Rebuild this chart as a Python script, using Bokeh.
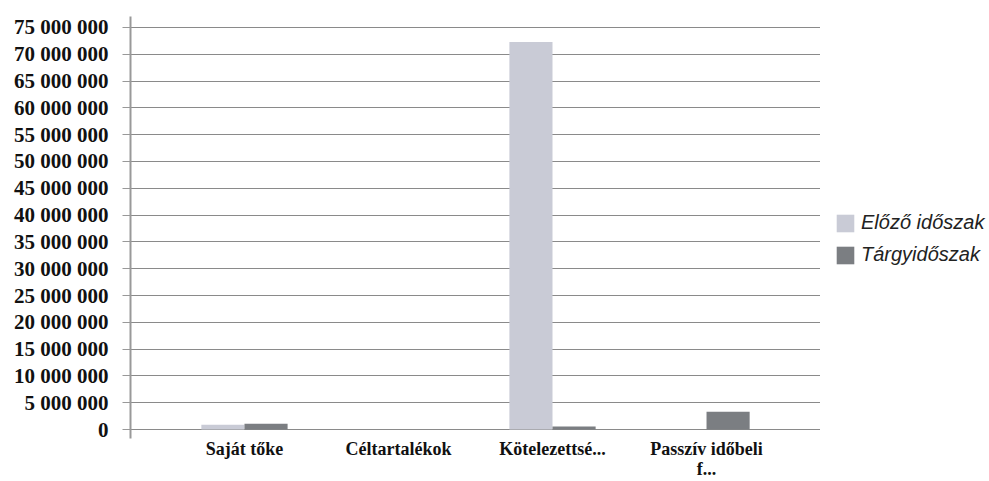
from bokeh.plotting import figure
from bokeh.layouts import row
from bokeh.models import ColumnDataSource, FactorRange, Legend, LegendItem, CustomJSTickFormatter, SingleIntervalTicker
from bokeh.transform import dodge
from bokeh.embed import file_html
from bokeh.resources import INLINE

categories = ["Saját tőke", "Céltartalékok", "Kötelezettsé...", "Passzív időbeli\nf..."]
elozo = [900000, 0, 72300000, 0]
targy = [1100000, 0, 550000, 3300000]
series_names = ["Előző időszak", "Tárgyidőszak"]
colors = ["#c9cbd6", "#7b7e82"]

src = ColumnDataSource(dict(cat=categories, elozo=elozo, targy=targy))

p = figure(x_range=FactorRange(*categories), y_range=(-1670000, 77040000),
           width=820, height=481, output_backend="svg", toolbar_location=None,
           min_border_left=130, min_border_top=16, min_border_bottom=41, min_border_right=0)

p.vbar(x=dodge("cat", -0.14, range=p.x_range), top="elozo", width=0.28, source=src,
       fill_color=colors[0], line_color=None)
p.vbar(x=dodge("cat", 0.14, range=p.x_range), top="targy", width=0.28, source=src,
       fill_color=colors[1], line_color=None)

p.yaxis.ticker = SingleIntervalTicker(interval=5000000)
p.yaxis.formatter = CustomJSTickFormatter(code="return Math.round(tick).toString().replace(/\\B(?=(\\d{3})+(?!\\d))/g, ' ');")
p.yaxis.major_label_text_font = "Liberation Serif"
p.yaxis.major_label_text_font_style = "bold"
p.yaxis.major_label_text_font_size = "21px"
p.yaxis.major_label_text_color = "#111111"
p.yaxis.axis_line_color = "#999999"
p.yaxis.axis_line_width = 2
p.yaxis.major_tick_line_color = "#999999"
p.yaxis.major_tick_out = 8
p.yaxis.major_tick_in = 0
p.yaxis.minor_tick_line_color = None
p.yaxis.major_label_standoff = 14

p.xaxis.axis_line_color = None
p.xaxis.major_tick_line_color = None
p.xaxis.minor_tick_line_color = None
p.xaxis.major_tick_out = 0
p.xaxis.major_tick_in = 0
p.xaxis.minor_tick_out = 0
p.xaxis.major_label_text_font = "Liberation Serif"
p.xaxis.major_label_text_font_style = "bold"
p.xaxis.major_label_text_font_size = "18px"
p.xaxis.major_label_text_line_height = 1.0
p.xaxis.major_label_text_color = "#111111"
p.xaxis.major_label_standoff = 0

p.xgrid.grid_line_color = None
p.ygrid.grid_line_color = "#8a8a8a"
p.ygrid.grid_line_width = 1
p.outline_line_color = None
p.x_range.range_padding = 0.24
p.x_range.range_padding_units = "absolute"
p.x_range.group_padding = 0

# legend panel
p2 = figure(width=169, height=481, output_backend="svg", toolbar_location=None,
            min_border=0, x_range=(0, 1), y_range=(0, 1))
d1 = p2.vbar(x=[5], top=[5], width=0.1, fill_color=colors[0], line_color=None)
d2 = p2.vbar(x=[5], top=[5], width=0.1, fill_color=colors[1], line_color=None)
p2.axis.visible = False
p2.grid.grid_line_color = None
p2.outline_line_color = None
legend = Legend(items=[LegendItem(label=series_names[0], renderers=[d1]),
                       LegendItem(label=series_names[1], renderers=[d2])],
                location=(14, 172), border_line_color=None, background_fill_alpha=0,
                label_text_font="Liberation Sans", label_text_font_style="italic",
                label_text_font_size="20px", label_text_color="#222222",
                glyph_width=22, glyph_height=22, spacing=9, label_standoff=5,
                margin=0, padding=1)
p2.add_layout(legend, "center")

lay = row(p, p2, spacing=0)
open("out.html", "w").write(file_html(lay, INLINE))
